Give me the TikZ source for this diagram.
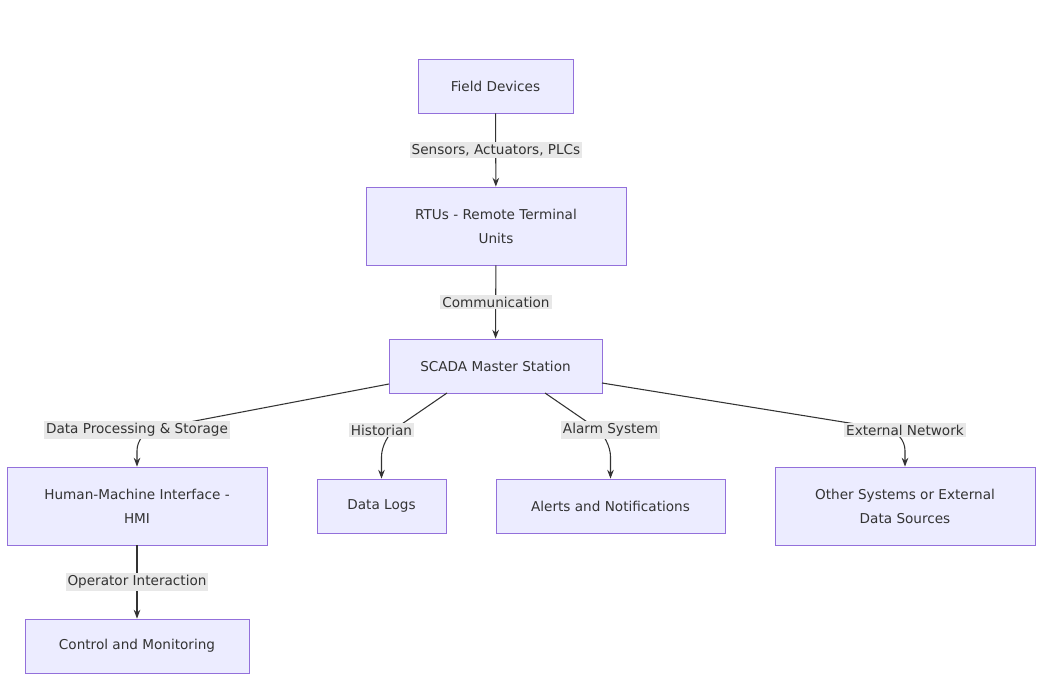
\documentclass[tikz,border=0pt]{standalone}
\usepackage{fontspec}
\setmainfont{DejaVu Sans}
\usetikzlibrary{arrows.meta}
\definecolor{boxfill}{HTML}{ECECFF}
\definecolor{boxline}{HTML}{9370DB}
\definecolor{edgeline}{HTML}{333333}
\definecolor{lblfill}{HTML}{E8E8E8}
\begin{document}
\begin{tikzpicture}[x=0.75pt,y=-0.75pt,>=Stealth,
      font=\fontsize{10.2}{18}\selectfont,
      box node/.style={draw=boxline,fill=boxfill,line width=0.6pt,align=center,
        text=edgeline,inner sep=0pt},
      edge label/.style={fill=lblfill,text=edgeline,inner sep=1.5pt},
      link/.style={->,draw=edgeline,line width=0.8pt,rounded corners=14pt}]
    \useasboundingbox (0,0) rectangle (1042,677);

    \node[box node,minimum width=116.25pt,minimum height=40.5pt] (field) at (495.5,86) {Field Devices};
    \node[box node,minimum width=195pt,minimum height=58.5pt] (rtu) at (496,226) {RTUs - Remote Terminal\\Units};
    \node[box node,minimum width=159.75pt,minimum height=40.5pt] (scada) at (495.5,366) {SCADA Master Station};
    \node[box node,minimum width=195pt,minimum height=58.5pt] (hmi) at (137,506) {Human-Machine Interface -\\HMI};
    \node[box node,minimum width=96.75pt,minimum height=40.5pt] (logs) at (381.5,506) {Data Logs};
    \node[box node,minimum width=171.75pt,minimum height=40.5pt] (alerts) at (610.5,506) {Alerts and Notifications};
    \node[box node,minimum width=195pt,minimum height=58.5pt] (other) at (905,506) {Other Systems or External\\Data Sources};
    \node[box node,minimum width=168pt,minimum height=40.5pt] (control) at (137,646) {Control and Monitoring};

    \coordinate (scadaL) at (389,384);
    \coordinate (scadaHL) at (447,393);
    \coordinate (scadaAR) at (545,393);
    \coordinate (scadaR) at (602,383);

    \draw[link] (field) -- (rtu);
    \draw[link] (rtu) -- (scada);
    \draw[link] (scadaL) -- (137,432) -- (hmi.north);
    \draw[link] (scadaHL) -- (381.5,438) -- (logs.north);
    \draw[link] (scadaAR) -- (610.5,438) -- (alerts.north);
    \draw[link] (scadaR) -- (905,432) -- (other.north);
    \draw[link] (hmi) -- (control);

    \node[edge label] (sensors) at (496,150) {Sensors, Actuators, PLCs};
    \node[edge label] (comm) at (496,302) {Communication};
    \node[edge label] (dproc) at (137,430) {Data Processing \& Storage};
    \node[edge label] (hist) at (381.5,430) {Historian};
    \node[edge label] (alarm) at (610.5,430) {Alarm System};
    \node[edge label] (extnet) at (905,430) {External Network};
    \node[edge label] (opint) at (137,582) {Operator Interaction};
\end{tikzpicture}
\end{document}
